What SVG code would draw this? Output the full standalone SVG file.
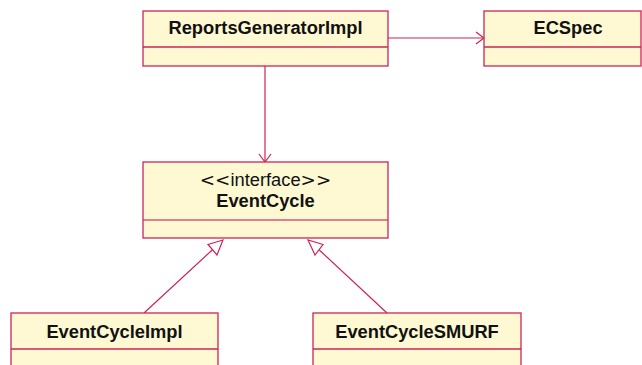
<svg xmlns="http://www.w3.org/2000/svg" width="642" height="365" viewBox="0 0 642 365">
  <style>
    .box { fill: #fef9d3; stroke: #cc2456; stroke-width: 1.3; }
    .div { stroke: #cc2456; stroke-width: 1.3; fill: none; }
    .name { font-family: "Liberation Sans", Arial, sans-serif; font-weight: bold; font-size: 18.3px; fill: #111; text-anchor: middle; }
    .stereo { font-family: "Liberation Sans", Arial, sans-serif; font-size: 18.3px; fill: #111; text-anchor: middle; }
    .guil { font-family: "DejaVu Sans", sans-serif; }
    .edge { stroke: #cc2456; stroke-width: 1.2; fill: none; }
    .head { stroke: #cc2456; stroke-width: 1.2; fill: #ffffff; }
  </style>
  <rect width="642" height="365" fill="#ffffff"/>

  <!-- connectors -->
  <g id="connectors">
    <!-- ReportsGeneratorImpl -> ECSpec (association) -->
    <line class="edge" x1="388" y1="38" x2="484" y2="38"/>
    <polyline class="edge" points="476,32 484,38 476,44"/>
    <!-- ReportsGeneratorImpl -> EventCycle (association) -->
    <line class="edge" x1="265" y1="66" x2="265" y2="162"/>
    <polyline class="edge" points="259,154 265,162 271,154"/>
    <!-- EventCycleImpl realizes EventCycle -->
    <line class="edge" x1="144" y1="313" x2="212.5" y2="249.7"/>
    <polygon class="head" points="223,240 208,244.5 217,255"/>
    <!-- EventCycleSMURF realizes EventCycle -->
    <line class="edge" x1="387" y1="313" x2="319" y2="249.7"/>
    <polygon class="head" points="308,240 315,255 323,244.5"/>
  </g>

  <g id="ReportsGeneratorImpl">
    <rect class="box" x="143" y="11" width="245" height="55"/>
    <line class="div" x1="143" y1="47" x2="388" y2="47"/>
    <text class="name" x="265.5" y="33.5">ReportsGeneratorImpl</text>
  </g>

  <g id="ECSpec">
    <rect class="box" x="484" y="11" width="157" height="55"/>
    <line class="div" x1="484" y1="47" x2="641" y2="47"/>
    <text class="name" x="568" y="33.5">ECSpec</text>
  </g>

  <g id="EventCycle">
    <rect class="box" x="143" y="162" width="245" height="76"/>
    <line class="div" x1="143" y1="220" x2="388" y2="220" stroke-opacity="0.75"/>
    <text class="stereo" x="265.5" y="186"><tspan class="guil">&lt;&lt;</tspan>interface<tspan class="guil">&gt;&gt;</tspan></text>
    <text class="name" x="265.5" y="207">EventCycle</text>
  </g>

  <g id="EventCycleImpl">
    <rect class="box" x="11" y="313" width="207" height="60"/>
    <line class="div" x1="11" y1="349" x2="218" y2="349"/>
    <text class="name" x="114.5" y="337.5">EventCycleImpl</text>
  </g>

  <g id="EventCycleSMURF">
    <rect class="box" x="313" y="313" width="208" height="60"/>
    <line class="div" x1="313" y1="349" x2="521" y2="349"/>
    <text class="name" x="417" y="337.5">EventCycleSMURF</text>
  </g>
</svg>
